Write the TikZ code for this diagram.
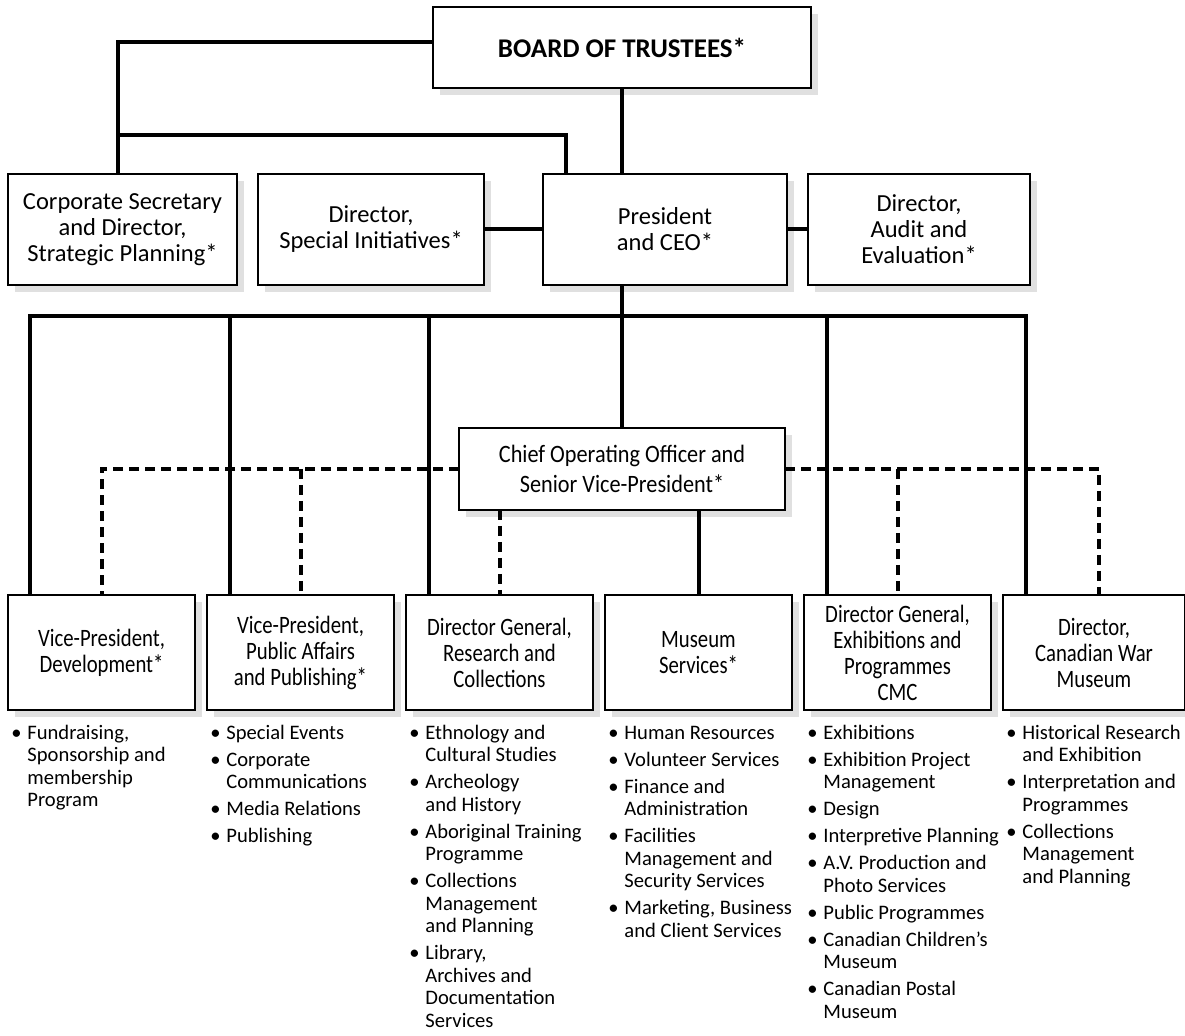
\documentclass[tikz,border=0pt]{standalone}
\usepackage{fontspec}
\setmainfont{Carlito}
\newfontfamily\narrowsf{Carlito}[FakeStretch=0.83]
\newfontfamily\coosf{Carlito}[FakeStretch=0.89]
\usetikzlibrary{positioning, shadows}

% bullet mark and duty list
\newcommand{\dotmark}{\hspace{-1pt}\textbullet}
\newenvironment{dutylist}{\renewcommand{\arraystretch}{1}\begin{tabular}{@{}p{7pt}@{}l@{}}}{\end{tabular}}

\begin{document}
\begin{tikzpicture}[x=0.5pt, y=-0.5pt,
    box/.style={draw, line width=1pt, fill=white, outer sep=0pt, align=center,
        font=\fontsize{12.25}{13}\selectfont,
        drop shadow={shadow xshift=3.5pt, shadow yshift=-3.5pt, fill=black!12, opacity=1}},
    topbox/.style={box, minimum height=55.5pt},
    lowbox/.style={box, minimum width=93.5pt, minimum height=57.5pt, inner sep=1pt,
        font=\narrowsf\fontsize{12.5}{13}\selectfont},
    duties/.style={anchor=north west, inner sep=0pt, font=\fontsize{10.3}{11.25}\selectfont},
    link/.style={line width=2pt},
    dotted link/.style={line width=2pt, dash pattern=on 5pt off 3pt}]
    \useasboundingbox (0,0) rectangle (1185,1036);
    % board and top row
    \node[box, minimum width=189pt, minimum height=40.5pt, font=\fontsize{13.5}{16}\selectfont\bfseries]
        (board) at (622,47.5) {BOARD OF TRUSTEES*};
    \node[topbox, minimum width=114.5pt] (corp) at (122.5,229.5)
        {Corporate Secretary\\and Director,\\Strategic Planning*};
    \node[topbox, minimum width=113pt, right=10.5pt of corp] (special) {Director,\\Special Initiatives*};
    \node[topbox, minimum width=122pt, right=29.5pt of special] (pres) {President\\and CEO*};
    \node[topbox, minimum width=111pt, right=10.5pt of pres] (audit) {Director,\\Audit and\\Evaluation*};
    \node[box, minimum width=163pt, minimum height=41pt, font=\coosf\fontsize{12.5}{15}\selectfont]
        (coo) at (622,469) {Chief Operating Officer and\\Senior Vice-President*};
    % bottom row
    \node[lowbox] (vpdev) at (101.5,652.5) {Vice-President,\\Development*};
    \node[lowbox, right=6pt of vpdev] (vppa) {Vice-President,\\Public Affairs\\and Publishing*};
    \node[lowbox, right=6pt of vppa] (dgrc) {Director General,\\Research and\\Collections};
    \node[lowbox, right=6pt of dgrc] (mus) {Museum\\Services*};
    \node[lowbox, right=6pt of mus] (dgex) {Director General,\\Exhibitions and\\Programmes\\CMC};
    \node[lowbox, minimum width=91pt, right=6pt of dgex] (cwm) {Director,\\Canadian War\\Museum};
    % duties
    \node[duties] (l1) at ([xshift=2.5pt, yshift=-6.5pt]vpdev.south west) {\begin{dutylist}
        \dotmark & Fundraising,\\ & Sponsorship and\\ & membership\\ & Program
        \end{dutylist}};
    \node[duties] (l2) at ([xshift=2.5pt, yshift=-6.5pt]vppa.south west) {\begin{dutylist}
        \dotmark & Special Events\\[2.25pt]
        \dotmark & Corporate\\ & Communications\\[2.25pt]
        \dotmark & Media Relations\\[2.25pt]
        \dotmark & Publishing
        \end{dutylist}};
    \node[duties] (l3) at ([xshift=2.5pt, yshift=-6.5pt]dgrc.south west) {\begin{dutylist}
        \dotmark & Ethnology and\\ & Cultural Studies\\[2.25pt]
        \dotmark & Archeology\\ & and History\\[2.25pt]
        \dotmark & Aboriginal Training\\ & Programme\\[2.25pt]
        \dotmark & Collections\\ & Management\\ & and Planning\\[2.25pt]
        \dotmark & Library,\\ & Archives and\\ & Documentation\\ & Services
        \end{dutylist}};
    \node[duties] (l4) at ([xshift=2.5pt, yshift=-6.5pt]mus.south west) {\begin{dutylist}
        \dotmark & Human Resources\\[2.25pt]
        \dotmark & Volunteer Services\\[2.25pt]
        \dotmark & Finance and\\ & Administration\\[2.25pt]
        \dotmark & Facilities\\ & Management and\\ & Security Services\\[2.25pt]
        \dotmark & Marketing, Business\\ & and Client Services
        \end{dutylist}};
    \node[duties] (l5) at ([xshift=2.5pt, yshift=-6.5pt]dgex.south west) {\begin{dutylist}
        \dotmark & Exhibitions\\[2.25pt]
        \dotmark & Exhibition Project\\ & Management\\[2.25pt]
        \dotmark & Design\\[2.25pt]
        \dotmark & Interpretive Planning\\[2.25pt]
        \dotmark & A.V. Production and\\ & Photo Services\\[2.25pt]
        \dotmark & Public Programmes\\[2.25pt]
        \dotmark & Canadian Children’s\\ & Museum\\[2.25pt]
        \dotmark & Canadian Postal\\ & Museum
        \end{dutylist}};
    \node[duties] (l6) at ([xshift=2.5pt, yshift=-6.5pt]cwm.south west) {\begin{dutylist}
        \dotmark & Historical Research\\ & and Exhibition\\[2.25pt]
        \dotmark & Interpretation and\\ & Programmes\\[2.25pt]
        \dotmark & Collections\\ & Management\\ & and Planning
        \end{dutylist}};
    % solid reporting lines
    \draw[link] ([yshift=2.5pt]board.west) -| ([xshift=-2.25pt]corp.north);
    \draw[link] ([xshift=-49.5pt]pres.north) |- ([xshift=-2.25pt, yshift=19.5pt]corp.north);
    \draw[link] (board.south) -- (board.south |- pres.north);
    \draw[link] (special) -- (pres);
    \draw[link] (pres) -- (audit);
    \draw[link] (board.south |- pres.south) -- (coo.north);
    \coordinate (bus) at (622,316);
    \coordinate (cwmtap) at ([xshift=11.5pt]cwm.north west);
    \draw[link] ([xshift=11pt]vpdev.north west) |- (bus -| cwmtap) -- (cwmtap);
    \foreach \b in {vppa, dgrc, dgex}
        \draw[link] ([xshift=11.5pt]\b.north west) -- ([xshift=11.5pt]\b.north west |- bus);
    \draw[link] (coo.south -| mus.north) -- (mus.north);
    % dotted reporting lines
    \draw[dotted link] (coo.west) -| (vpdev.north);
    \draw[dotted link] (coo.west -| vppa.north) -- (vppa.north);
    \draw[dotted link] (coo.south -| dgrc.north) -- (dgrc.north);
    \draw[dotted link] (coo.east) -| ([xshift=2.5pt]cwm.north);
    \draw[dotted link] (coo.east -| dgex.north) -- (dgex.north);
\end{tikzpicture}
\end{document}
